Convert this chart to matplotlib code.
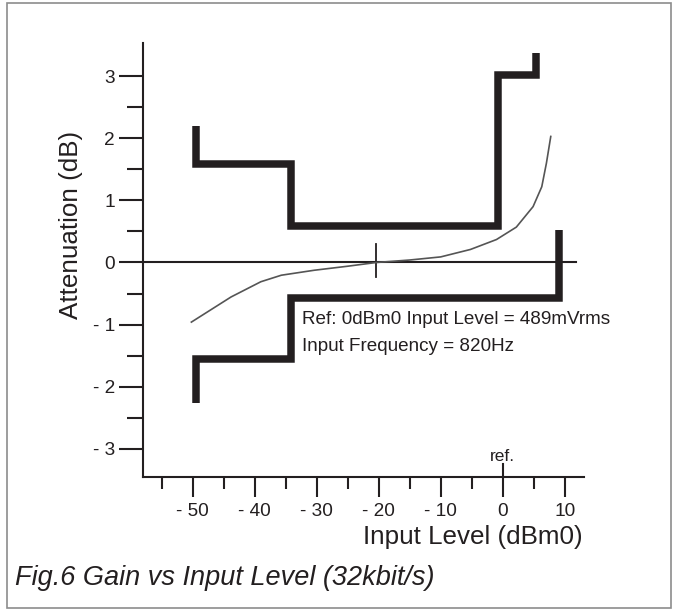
import matplotlib
matplotlib.use('Agg')
import matplotlib.pyplot as plt
from matplotlib.patches import Rectangle

black = '#231f20'
grey = '#555555'

# measured curve: attenuation vs input level
level = [-50.2, -43.8, -39.0, -35.7, -30.4, -25.0, -20.4, -15.0, -10.0,
         -5.2, -1.0, 2.2, 4.9, 6.3, 7.05, 7.75]
atten = [-0.96, -0.555, -0.31, -0.205, -0.125, -0.06, 0.0, 0.04, 0.09,
         0.21, 0.37, 0.57, 0.9, 1.22, 1.6, 2.03]

# limit masks (upper / lower)
upper_x = [-49.4, -49.4, -34.2, -34.2, -0.8, -0.8, 5.4, 5.4]
upper_y = [2.2, 1.58, 1.58, 0.58, 0.58, 3.02, 3.02, 3.37]
lower_x = [-49.4, -49.4, -34.2, -34.2, 9.15, 9.15]
lower_y = [-2.26, -1.55, -1.55, -0.57, -0.57, 0.53]

xticks = [-50, -40, -30, -20, -10, 0, 10]
xlabels = ['- 50', '- 40', '- 30', '- 20', '- 10', '0', '10']
yticks = [-3, -2, -1, 0, 1, 2, 3]
ylabels = ['- 3', '- 2', '- 1', '0', '1', '2', '3']

plt.rc('font', family=['Liberation Sans', 'DejaVu Sans'])

fig = plt.figure(figsize=(6.79, 6.10), dpi=100)
ax = fig.add_axes([0.2106, 0.2185, 0.6494, 0.7105])
ax.set_xlim(-58.0, 13.1)
ax.set_ylim(-3.45, 3.53)

for s in ['top', 'right']:
    ax.spines[s].set_visible(False)
for s in ['left', 'bottom']:
    ax.spines[s].set_linewidth(1.5)
    ax.spines[s].set_color(black)

ax.set_xticks(xticks)
ax.set_xticklabels(xlabels)
ax.set_xticks([-55, -45, -35, -25, -15, -5, 5], minor=True)
ax.set_yticks(yticks)
ax.set_yticklabels(ylabels)
ax.set_yticks([-2.5, -1.5, -0.5, 0.5, 1.5, 2.5], minor=True)
ax.tick_params(axis='x', which='major', length=14.4, width=1.5, pad=4.5,
               labelsize=13.7, color=black, labelcolor=black)
ax.tick_params(axis='x', which='minor', length=8.6, width=1.5, color=black)
ax.tick_params(axis='y', which='major', length=17.3, width=1.5, pad=3,
               labelsize=13.7, color=black, labelcolor=black)
ax.tick_params(axis='y', which='minor', length=11.5, width=1.5, color=black)

# zero reference line
ax.plot([-58.0, 11.9], [0, 0], color=black, linewidth=1.5, clip_on=False)
ax.plot([-20.4, -20.4], [-0.23, 0.29], color=black, linewidth=1.3)
ax.plot([0, 0], [-3.45, -3.25], color=black, linewidth=1.5, clip_on=False)
ax.text(0, -3.12, 'ref.', ha='center', va='center', fontsize=12.5, color=black)

ax.plot(level, atten, color=grey, linewidth=1.2)

ax.plot(upper_x, upper_y, color=black, linewidth=5.4,
        solid_joinstyle='miter', solid_capstyle='butt')
ax.plot(lower_x, lower_y, color=black, linewidth=5.4,
        solid_joinstyle='miter', solid_capstyle='butt')

ax.text(-32.3, -0.994, 'Ref: 0dBm0 Input Level = 489mVrms', fontsize=13.6,
        va='baseline', ha='left', color=black)
ax.text(-32.3, -1.424, 'Input Frequency = 820Hz', fontsize=13.6,
        va='baseline', ha='left', color=black)

fig.text(583 / 679, 1 - 537 / 610, 'Input Level (dBm0)', fontsize=18.7,
         ha='right', va='center', color=black)
fig.text(71 / 679, 1 - 225 / 610, 'Attenuation (dB)', fontsize=18.7,
         rotation=90, ha='center', va='center', color=black)
fig.text(15 / 679, 25 / 610, 'Fig.6 Gain vs Input Level (32kbit/s)',
         fontsize=19.5, style='italic', ha='left', va='baseline', color=black)

fig.patches.append(Rectangle((7 / 679, 2 / 610), 664 / 679, 605 / 610,
                             transform=fig.transFigure, fill=False,
                             edgecolor='#8c8c8c', linewidth=1.2))

plt.savefig('out.png', dpi=100)
